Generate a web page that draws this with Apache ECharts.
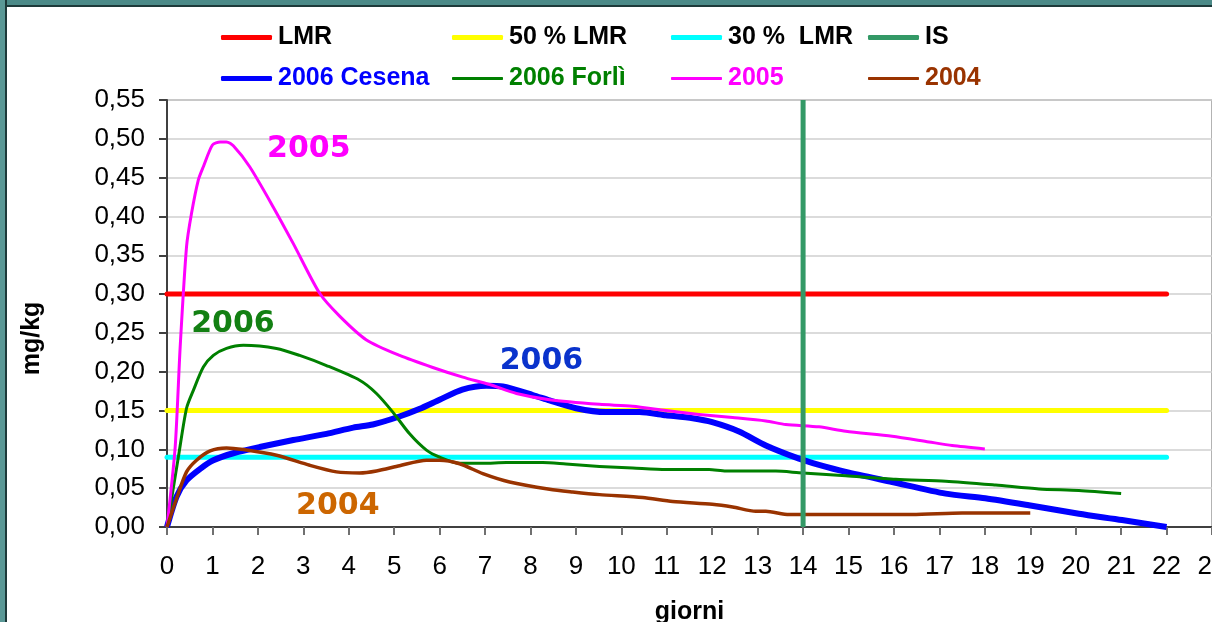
<!DOCTYPE html>
<html><head><meta charset="utf-8">
<script src="https://cdn.jsdelivr.net/npm/echarts@6/dist/echarts.min.js"></script>
<style>
html,body{margin:0;padding:0;background:#ffffff;width:1212px;height:622px;overflow:hidden;}
#topbar{position:absolute;left:0;top:0;width:1212px;height:5px;background:#4b8a88;border-bottom:2px solid #1d3a3a;}
#leftbar{position:absolute;left:0;top:0;width:5px;height:622px;background:#5a9896;border-right:2px solid #1d3a3a;}
#chart{position:absolute;left:0;top:0;width:1212px;height:622px;}
</style></head><body>
<div id="topbar"></div><div id="leftbar"></div><div id="chart"></div>
<script>
// ---- data ----
const xTicks = [0,1,2,3,4,5,6,7,8,9,10,11,12,13,14,15,16,17,18,19,20,21,22,23];
const yTicks = [0,0.05,0.10,0.15,0.20,0.25,0.30,0.35,0.40,0.45,0.50,0.55];

const lmrValue = 0.30;
const lmr50Value = 0.15;
const lmr30Value = 0.09;
const limitDays = [0, 22];
const isDay = 14;

const cesenaDays   = [0,0.21,0.43,0.73,1.02,1.46,2.04,2.78,3.51,4.10,4.53,5.10,5.55,6.0,6.5,7.03,7.39,8.05,8.42,9.0,9.66,10.4,10.98,11.57,12.0,12.59,13.18,13.91,14.35,14.94,15.96,17.14,18.01,18.97,20.07,21.02,22];
const cesenaValues = [0,0.039,0.060,0.075,0.086,0.095,0.103,0.112,0.120,0.128,0.132,0.142,0.152,0.164,0.177,0.182,0.181,0.170,0.163,0.153,0.148,0.148,0.144,0.140,0.135,0.123,0.105,0.088,0.080,0.071,0.058,0.043,0.037,0.028,0.017,0.009,0.0];

const forliDays   = [0,0.25,0.43,0.58,0.80,1.02,1.31,1.68,2.41,2.92,3.51,4.24,4.61,4.97,5.34,5.71,6.0,6.44,6.95,7.47,8.27,8.78,9.52,10.25,10.98,11.93,12.30,13.40,13.91,14.94,16.04,17.14,18.24,19.19,20.07,21];
const forliValues = [0,0.090,0.153,0.176,0.206,0.221,0.230,0.234,0.230,0.221,0.208,0.189,0.172,0.148,0.120,0.099,0.090,0.082,0.082,0.083,0.083,0.081,0.078,0.076,0.074,0.074,0.072,0.072,0.070,0.066,0.0615,0.059,0.054,0.049,0.047,0.043];

const y2005Days   = [0,0.18,0.29,0.43,0.54,0.69,0.80,1.0,1.17,1.31,1.46,1.82,2.34,2.78,3.36,3.81,4.39,5.12,5.85,6.51,7.10,7.69,8.42,9.52,10.25,10.98,11.71,12.45,13.18,13.62,14.35,14.94,15.96,16.77,17.28,18];
const y2005Values = [0,0.103,0.232,0.361,0.404,0.447,0.464,0.492,0.496,0.496,0.491,0.464,0.412,0.365,0.301,0.271,0.241,0.221,0.2055,0.193,0.1835,0.172,0.164,0.158,0.1556,0.150,0.145,0.141,0.1366,0.132,0.129,0.1234,0.117,0.1096,0.105,0.1006];

const y2004Days   = [0,0.2,0.43,0.65,0.95,1.31,1.68,2.41,3.14,3.73,4.24,4.61,5.12,5.71,6.0,6.44,6.95,7.54,8.42,8.93,9.52,10.47,11.13,12.0,12.45,12.96,13.18,13.69,14.35,16.4,17.5,19];
const y2004Values = [0,0.035,0.071,0.086,0.098,0.1018,0.0997,0.0924,0.0795,0.071,0.0696,0.0722,0.0790,0.086,0.086,0.0815,0.0688,0.058,0.0486,0.0451,0.0417,0.0379,0.0327,0.0293,0.0258,0.0202,0.0202,0.016,0.016,0.016,0.018,0.018];

const annotationTexts  = ['2005','2006','2006','2004'];
const annotationDays   = [3.12, 1.45, 8.24, 3.76];
const annotationValues = [0.4867, 0.2612, 0.2136, 0.0267];

const seriesNames = ['LMR','50 % LMR','30 %  LMR','IS','2006 Cesena','2006 Forlì','2005','2004'];

// ---- chart ----
const zip = (xs, ys) => xs.map((x, i) => [x, ys[i]]);
const FONT = "'Liberation Sans', Arial, sans-serif";
const ANN_FONT = "'DejaVu Sans', Verdana, sans-serif";

function annotation(i, color) {
  return {
    symbol: 'circle', symbolSize: 0, silent: true, animation: false,
    data: [{ coord: [annotationDays[i], annotationValues[i]],
      label: { show: true, position: 'inside', formatter: annotationTexts[i], color: color,
        fontFamily: ANN_FONT, fontWeight: 'bold', fontSize: 30 } }]
  };
}

function hline(name, value, color) {
  return { name, type: 'line', color, symbol: 'none', silent: true, z: 2,
    data: limitDays.map(d => [d, value]),
    lineStyle: { color, width: 5, cap: 'round' } };
}

const legendPos = [
  [216, 20, 5, '#000000'], [447, 20, 5, '#000000'], [666, 20, 5, '#000000'], [863, 20, 5, '#000000'],
  [216, 61, 5, '#0000ff'], [447, 61, 3, '#008000'], [666, 61, 3, '#ff00ff'], [863, 61, 3, '#993300']
];

const option = {
  animation: false,
  backgroundColor: 'transparent',
  textStyle: { fontFamily: FONT },
  legend: seriesNames.map((n, i) => ({
    data: [n], left: legendPos[i][0], top: legendPos[i][1],
    icon: 'roundRect', itemWidth: 51, itemHeight: legendPos[i][2],
    selectedMode: false,
    textStyle: { fontFamily: FONT, fontWeight: 'bold', fontSize: 25, color: legendPos[i][3], padding: [0,0,0,1] }
  })),
  grid: { left: 167, top: 100, width: 1045, height: 427, show: true, borderColor: '#9a9a9a', borderWidth: 1.5,
    outerBoundsMode: 'none', containLabel: false },
  xAxis: {
    type: 'value', min: xTicks[0], max: xTicks[xTicks.length - 1], interval: 1,
    name: 'giorni', nameLocation: 'middle', nameGap: 73,
    nameTextStyle: { fontFamily: FONT, fontWeight: 'bold', fontSize: 25, color: '#000' },
    axisLine: { show: true, onZero: false, lineStyle: { color: '#404040', width: 2 } },
    axisTick: { show: true, length: 8, lineStyle: { color: '#707070', width: 2 } },
    axisLabel: { fontFamily: FONT, fontSize: 26, color: '#000', margin: 27, showMaxLabel: true,
      formatter: v => String(v) },
    splitLine: { show: false }
  },
  yAxis: {
    type: 'value', min: yTicks[0], max: yTicks[yTicks.length - 1], interval: 0.05,
    name: 'mg/kg', nameLocation: 'middle', nameGap: 122, nameRotate: 90,
    nameTextStyle: { fontFamily: FONT, fontWeight: 'bold', fontSize: 25, color: '#000', padding: [0, 50, 0, 0] },
    axisLine: { show: true, lineStyle: { color: '#404040', width: 2 } },
    axisTick: { show: true, length: 8, lineStyle: { color: '#404040', width: 2 } },
    axisLabel: { fontFamily: FONT, fontSize: 26, color: '#000', margin: 22,
      formatter: v => v.toFixed(2).replace('.', ',') },
    splitLine: { show: true, lineStyle: { color: '#cfcfcf', width: 1.5 } }
  },
  series: [
    hline('LMR', lmrValue, '#ff0000'),
    hline('50 % LMR', lmr50Value, '#ffff00'),
    hline('30 %  LMR', lmr30Value, '#00ffff'),
    { name: 'IS', type: 'line', color: '#339966', symbol: 'none', silent: true, z: 10,
      data: [[isDay, yTicks[0]], [isDay, yTicks[yTicks.length - 1]]],
      lineStyle: { color: '#339966', width: 5 } },
    { name: '2006 Cesena', type: 'line', color: '#0000ff', symbol: 'none', smooth: 0.25, z: 4,
      data: zip(cesenaDays, cesenaValues), lineStyle: { color: '#0000ff', width: 6, join: 'round' },
      markPoint: annotation(2, '#0a33cc') },
    { name: '2006 Forlì', type: 'line', color: '#008000', symbol: 'none', smooth: 0.25, z: 5,
      data: zip(forliDays, forliValues), lineStyle: { color: '#008000', width: 3, join: 'round' },
      markPoint: annotation(1, '#138013') },
    { name: '2005', type: 'line', color: '#ff00ff', symbol: 'none', smooth: 0.25, z: 5,
      data: zip(y2005Days, y2005Values), lineStyle: { color: '#ff00ff', width: 3, join: 'round' },
      markPoint: annotation(0, '#ff00ff') },
    { name: '2004', type: 'line', color: '#993300', symbol: 'none', smooth: 0.25, z: 6,
      data: zip(y2004Days, y2004Values), lineStyle: { color: '#993300', width: 3.5, join: 'round' },
      markPoint: annotation(3, '#cc6600') }
  ]
};

const chart = echarts.init(document.getElementById('chart'), null, { renderer: 'canvas' });
chart.setOption(option);
</script></body></html>
